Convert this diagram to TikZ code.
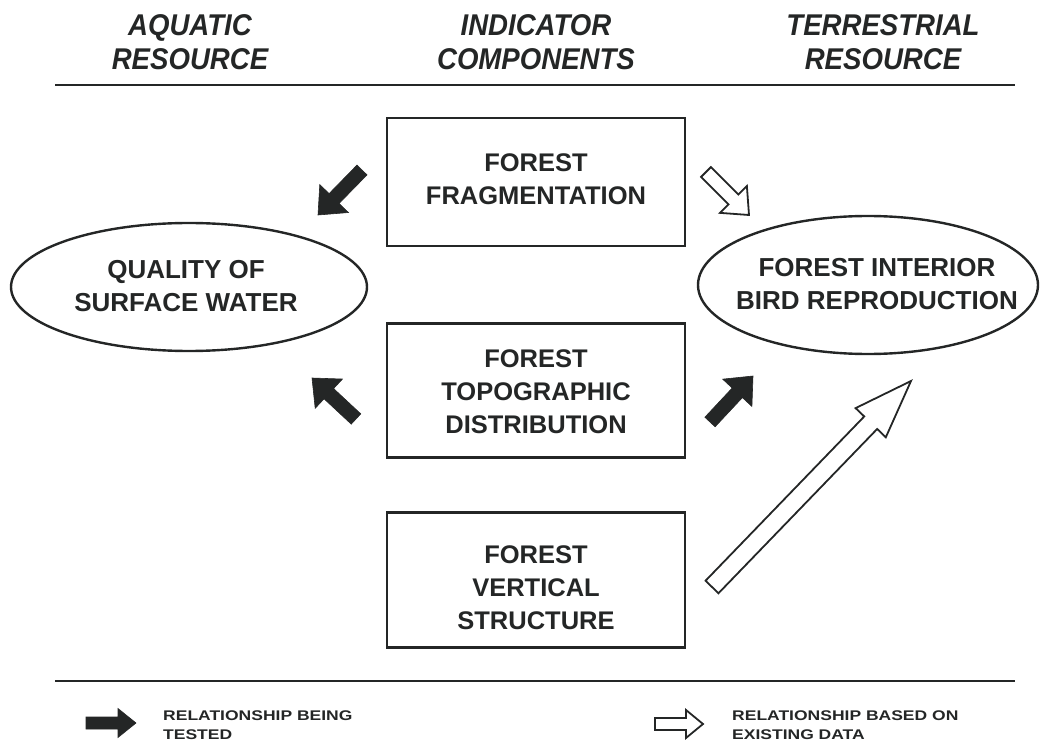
\documentclass[tikz,border=0pt]{standalone}
\usepackage{fontspec}
\setmainfont{Liberation Sans}
\newfontfamily\hdrfont[FakeStretch=0.92]{Liberation Sans}
\newfontfamily\legfont[FakeStretch=1.25]{Liberation Sans}
\usetikzlibrary{calc,shapes.geometric}
\definecolor{ink}{RGB}{36,38,38}
\newcommand\blockarrow[6]{%
  \path ($(#2)!#5!(#1)$) coordinate (hb);
  \draw[#6] ($(#1)!#3!90:(#2)$) -- ($(hb)!#3!90:(#2)$) -- ($(hb)!#4!90:(#2)$) -- (#2)
    -- ($(hb)!#4!-90:(#2)$) -- ($(hb)!#3!-90:(#2)$) -- ($(#1)!#3!-90:(#2)$) -- cycle;
}
\tikzset{
  hdr/.style={text=ink, align=center, font=\hdrfont\bfseries\itshape\fontsize{30}{34}\selectfont},
  boxshape/.style={draw=ink, line width=2.6pt, minimum width=298pt, minimum height=130pt, inner sep=0pt},
  boxtext/.style={text=ink, align=center, font=\bfseries\fontsize{25.5}{33}\selectfont},
  resource/.style={ellipse, draw=ink, line width=2.4pt, inner sep=0pt},
  restext/.style={text=ink, align=center, inner sep=0pt, font=\bfseries\fontsize{26}{33}\selectfont},
  legtext/.style={text=ink, align=left, anchor=west, inner sep=0pt, font=\legfont\bfseries\fontsize{14}{19}\selectfont},
  blackarrow/.style={fill=ink, draw=ink, line width=0.6pt, line join=miter},
  whitearrow/.style={fill=white, draw=ink, line width=1.8pt, line join=miter},
  rule/.style={draw=ink, line width=1.8pt}
}
\begin{document}
\begin{tikzpicture}[x=1pt,y=-1pt]
\useasboundingbox (0,0) rectangle (1045,746);
% headers
\node[hdr] (haq) at (190,42.5) {AQUATIC\\RESOURCE};
\node[hdr] (hind) at (536,42.5) {INDICATOR\\COMPONENTS};
\node[hdr] (hter) at (883,42.5) {TERRESTRIAL\\RESOURCE};
\coordinate (r1a) at (55,85);
\coordinate (r1b) at (1015,85);
\draw[rule] (r1a) -- (r1b);
% boxes
\node[boxshape, minimum height=128pt] (b1) at (536,182) {};
\node[boxtext] (t1) at (536,179.5) {FOREST\\FRAGMENTATION};
\node[boxshape, minimum height=134pt] (b2) at (536,390.5) {};
\node[boxtext] (t2) at (536,391.5) {FOREST\\TOPOGRAPHIC\\DISTRIBUTION};
\node[boxshape, minimum height=135pt] (b3) at (536,580) {};
\node[boxtext] (t3) at (536,587.5) {FOREST\\VERTICAL\\STRUCTURE};
% ellipses
\node[resource, minimum width=356pt, minimum height=128pt] (water) at (189,287) {};
\node[restext] (wtext) at (186,286) {QUALITY OF\\SURFACE WATER};
\node[resource, minimum width=340pt, minimum height=138pt] (bird) at (868,285) {};
\node[restext] (btext) at (877,284) {FOREST INTERIOR\\BIRD REPRODUCTION};
% arrows
\coordinate (a1t) at (362,170); \coordinate (a1h) at (318,215);
\coordinate (a2t) at (356,419); \coordinate (a2h) at (312,378);
\coordinate (a3t) at (710,422); \coordinate (a3h) at (753,376);
\coordinate (a4t) at (706,172); \coordinate (a4h) at (749,215);
\coordinate (a5t) at (712,587); \coordinate (a5h) at (911,381);
\blockarrow{a1t}{a1h}{7pt}{20pt}{23pt}{blackarrow}
\blockarrow{a2t}{a2h}{7pt}{20pt}{23pt}{blackarrow}
\blockarrow{a3t}{a3h}{7pt}{20pt}{23pt}{blackarrow}
\blockarrow{a4t}{a4h}{7pt}{19pt}{22pt}{whitearrow}
\blockarrow{a5t}{a5h}{9pt}{21pt}{58pt}{whitearrow}
% bottom rule and legend
\coordinate (r2a) at (55,681);
\coordinate (r2b) at (1015,681);
\draw[rule] (r2a) -- (r2b);
\coordinate (l1t) at (86,723); \coordinate (l1h) at (136,723);
\coordinate (l2t) at (655,724); \coordinate (l2h) at (703,724);
\blockarrow{l1t}{l1h}{6pt}{14.5pt}{18pt}{blackarrow}
\blockarrow{l2t}{l2h}{6pt}{14pt}{17pt}{whitearrow}
\node[legtext] (leg1) at (163,725) {RELATIONSHIP BEING\\TESTED};
\node[legtext] (leg2) at (732,725) {RELATIONSHIP BASED ON\\EXISTING DATA};
\end{tikzpicture}
\end{document}
